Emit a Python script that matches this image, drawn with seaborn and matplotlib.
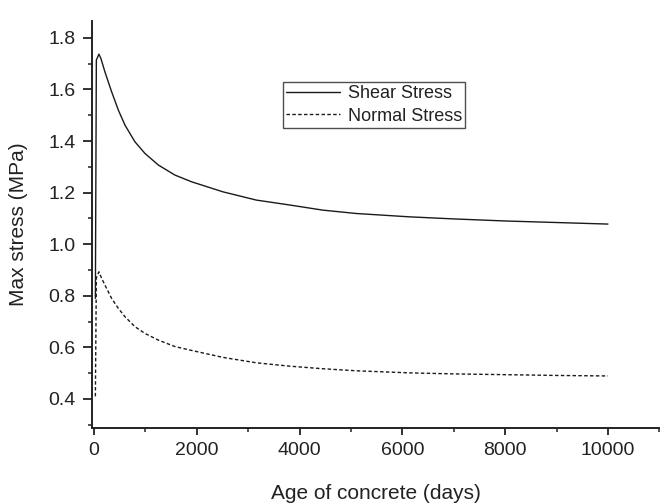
import matplotlib
matplotlib.use("Agg")
import matplotlib.pyplot as plt
from matplotlib.ticker import MultipleLocator
import pandas as pd
import seaborn as sns

# Age of concrete (days) at which stresses were sampled
age_days = [28, 47, 97, 136, 214, 344, 475, 603, 798, 992, 1253, 1576, 1900,
            2510, 3160, 3807, 4455, 5105, 6142, 7000, 8000, 9000, 10000]

# Maximum shear stress (MPa)
shear_stress = [0.79, 1.714, 1.737, 1.720, 1.668, 1.591, 1.520, 1.462, 1.397,
                1.352, 1.307, 1.268, 1.242, 1.203, 1.171, 1.152, 1.132, 1.119,
                1.106, 1.098, 1.090, 1.084, 1.078]

# Maximum normal stress (MPa)
normal_stress = [0.41, 0.87, 0.893, 0.874, 0.841, 0.790, 0.751, 0.719, 0.680,
                 0.654, 0.628, 0.603, 0.588, 0.561, 0.540, 0.527, 0.517, 0.509,
                 0.501, 0.497, 0.494, 0.491, 0.489]

series_names = ["Shear Stress", "Normal Stress"]

x_ticks = [0, 2000, 4000, 6000, 8000, 10000]
y_ticks = [0.4, 0.6, 0.8, 1.0, 1.2, 1.4, 1.6, 1.8]

df = pd.DataFrame({
    "age": age_days * 2,
    "stress": shear_stress + normal_stress,
    "series": [series_names[0]] * len(age_days) + [series_names[1]] * len(age_days),
})

sns.set_theme(style="ticks")
plt.rcParams["font.family"] = ["Liberation Sans", "DejaVu Sans"]

ink = "#222222"

fig = plt.figure(figsize=(6.61, 5.03), dpi=100)
ax = fig.add_axes([0.139, 0.149, 0.8585, 0.809])

sns.lineplot(data=df, x="age", y="stress", style="series",
             style_order=series_names,
             dashes={series_names[0]: "", series_names[1]: (2.5, 1.7)},
             color="#1a1a1a", linewidth=1.0, ax=ax, legend=True)

ax.set_xlim(-40, 11000)
ax.set_ylim(0.287, 1.865)
ax.set_xticks(x_ticks)
ax.set_yticks(y_ticks)
ax.set_yticklabels([f"{v:.1f}" for v in y_ticks])
ax.xaxis.set_minor_locator(MultipleLocator(1000))
ax.yaxis.set_minor_locator(MultipleLocator(0.1))

for s in ["top", "right"]:
    ax.spines[s].set_visible(False)
for s in ["left", "bottom"]:
    ax.spines[s].set_color(ink)
    ax.spines[s].set_linewidth(1.4)

ax.tick_params(axis="both", which="major", direction="out", width=1.3,
               color=ink, labelsize=14, labelcolor=ink)
ax.tick_params(axis="y", which="major", length=6.2, pad=5.5)
ax.tick_params(axis="x", which="major", length=5.2, pad=4.5)
ax.tick_params(axis="both", which="minor", direction="out", length=3.0, width=1.1,
               color=ink)

ax.set_xlabel("Age of concrete (days)", fontsize=15, color=ink)
ax.set_ylabel("Max stress (MPa)", fontsize=15, color=ink)
ax.xaxis.label.set_va("center")
ax.yaxis.label.set_va("center")
ax.xaxis.set_label_coords(0.5, -0.162)
ax.yaxis.set_label_coords(-0.130, 0.5)

leg = ax.legend(loc="upper left", bbox_to_anchor=(0.336, 0.851), borderaxespad=0,
                fontsize=13, frameon=True, fancybox=False, handlelength=3.0,
                handletextpad=0.4, borderpad=0.2, labelspacing=0.3)
leg.get_frame().set_edgecolor(ink)
leg.get_frame().set_linewidth(1.0)
for t in leg.get_texts():
    t.set_color(ink)

fig.savefig("out.png", dpi=100)
